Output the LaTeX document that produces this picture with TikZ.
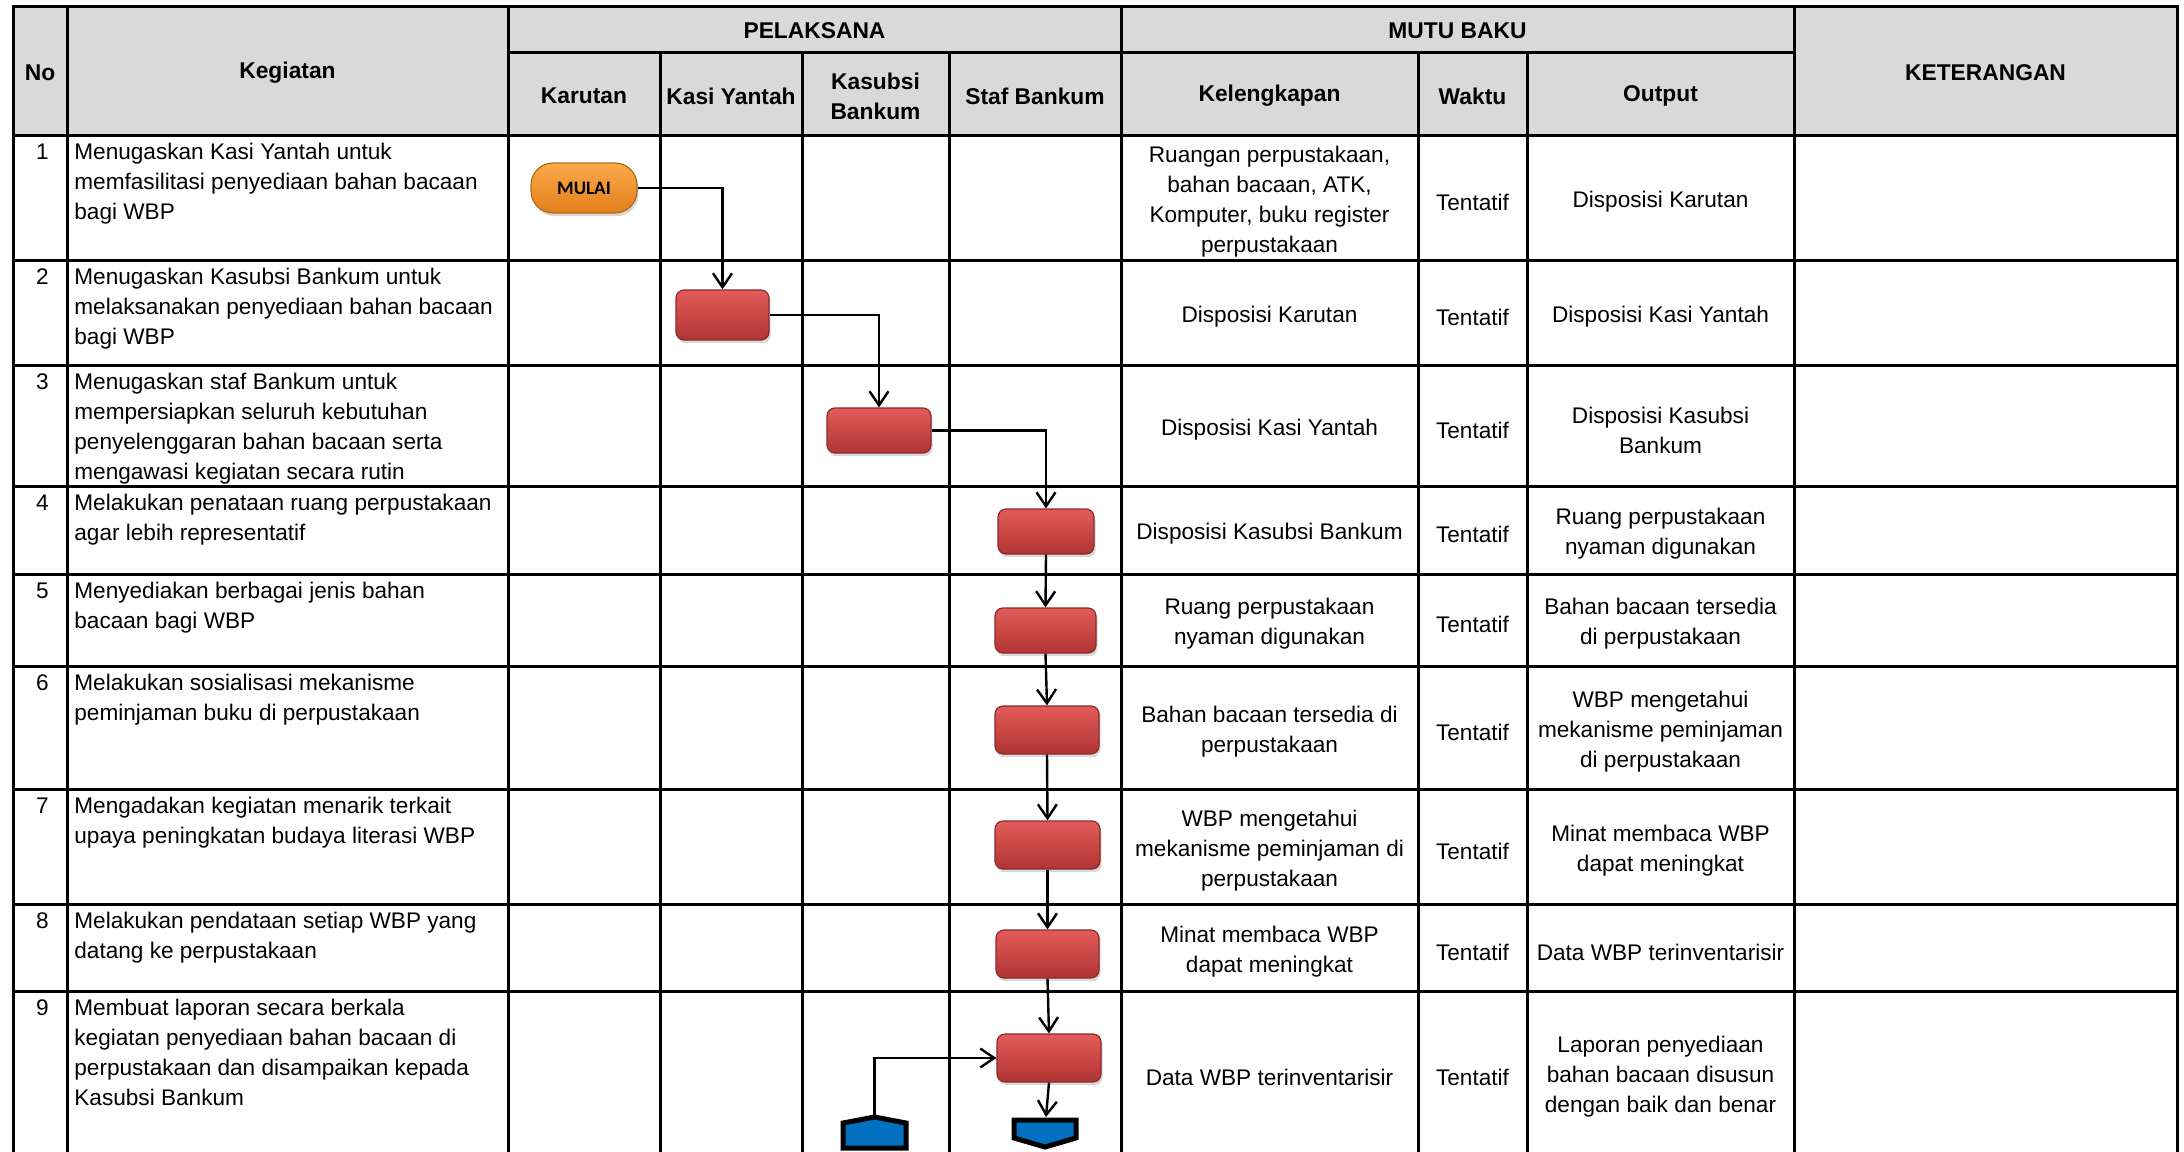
\documentclass[tikz,border=0pt]{standalone}
\usepackage{fontspec}
\setmainfont{Liberation Sans}
\newfontfamily\calfont{Carlito}
\usetikzlibrary{arrows.meta,shadows}
\definecolor{hdr}{HTML}{D9D9D9}
\definecolor{redtop}{HTML}{E25C5A}
\definecolor{redbot}{HTML}{B03434}
\definecolor{redline}{HTML}{8C2A2A}
\definecolor{orgtop}{HTML}{FBAA4C}
\definecolor{orgbot}{HTML}{E37F1A}
\definecolor{orgline}{HTML}{B8681A}
\definecolor{offblue}{HTML}{0070C0}
\begin{document}
\begin{tikzpicture}[x=0.5pt,y=-0.5pt,
  txt/.style={font=\fontsize{11.3}{15}\selectfont, inner sep=0pt},
  ctxt/.style={txt, align=center},
  ltxt/.style={txt, align=left, anchor=north west},
  numtxt/.style={txt, anchor=base east},
  hd/.style={font=\fontsize{11.4}{15}\selectfont\bfseries, inner sep=0pt, align=center},
  gridline/.style={line width=1.5pt, line cap=rect},
  procbox/.style={rectangle, rounded corners=4pt, draw=redline, line width=0.6pt,
    top color=redtop, bottom color=redbot, inner sep=0pt,
    drop shadow={shadow xshift=0.8pt, shadow yshift=-1.6pt, opacity=0.3}},
  startbox/.style={rectangle, rounded corners=11pt, draw=orgline, line width=0.6pt,
    top color=orgtop, bottom color=orgbot, inner sep=0pt,
    font=\calfont\bfseries\fontsize{9.5}{11}\selectfont,
    drop shadow={shadow xshift=0.8pt, shadow yshift=-1.6pt, opacity=0.3}},
  flow/.style={line width=1.2pt, -{Straight Barb[length=7pt,width=9.5pt]}},
  offpage/.style={fill=offblue, draw=black, line width=2.5pt, line join=miter}
]
\useasboundingbox (0,0) rectangle (2184,1151);
\clip (0,0) rectangle (2184,1151);
\fill[white] (0,0) rectangle (2184,1151);

% header fill
\fill[hdr] (13,6) rectangle (2177,135);

% grid
\draw[gridline] (13,6) -- (2177,6);
\draw[gridline] (508,52) -- (1794,52);
\foreach \yy in {135,260,365,486,574,666,789,904,991}
  \draw[gridline] (13,\yy) -- (2177,\yy);
\foreach \xx in {13,67,508,1121,1794,2177}
  \draw[gridline] (\xx,6) -- (\xx,1160);
\foreach \xx in {660,802,949,1418,1527}
  \draw[gridline] (\xx,52) -- (\xx,1160);

% header text
\node[hd] (hNo) at (40,73) {No};
\node[hd] (hKeg) at (287.5,73) {Kegiatan};
\node[hd] (hPel) at (814.5,31) {PELAKSANA};
\node[hd] (hMutu) at (1457.5,31) {MUTU BAKU};
\node[hd] (hKar) at (584,96) {Karutan};
\node[hd] (hKasi) at (731,96) {Kasi Yantah};
\node[hd] (hKsb) at (875.5,96) {Kasubsi\\Bankum};
\node[hd] (hStaf) at (1035,96) {Staf Bankum};
\node[hd] (hKel) at (1269.5,96) {Kelengkapan};
\node[hd] (hWak) at (1472.5,96) {Waktu};
\node[hd] (hOut) at (1660.5,96) {Output};
\node[hd] (hKet) at (1985.5,73) {KETERANGAN};

% numbers
\node[numtxt] (n1) at (49,159) {1};
\node[numtxt] (n2) at (49,284) {2};
\node[numtxt] (n3) at (49,389) {3};
\node[numtxt] (n4) at (49,510) {4};
\node[numtxt] (n5) at (49,598) {5};
\node[numtxt] (n6) at (49,690) {6};
\node[numtxt] (n7) at (49,813) {7};
\node[numtxt] (n8) at (49,928) {8};
\node[numtxt] (n9) at (49,1015) {9};

% kegiatan
\node[ltxt] (k1) at (74,143) {Menugaskan Kasi Yantah untuk\\memfasilitasi penyediaan bahan bacaan\\bagi WBP};
\node[ltxt] (k2) at (74,268) {Menugaskan Kasubsi Bankum untuk\\melaksanakan penyediaan bahan bacaan\\bagi WBP};
\node[ltxt] (k3) at (74,373) {Menugaskan staf Bankum untuk\\mempersiapkan seluruh kebutuhan\\penyelenggaran bahan bacaan serta\\mengawasi kegiatan secara rutin};
\node[ltxt] (k4) at (74,494) {Melakukan penataan ruang perpustakaan\\agar lebih representatif};
\node[ltxt] (k5) at (74,582) {Menyediakan berbagai jenis bahan\\bacaan bagi WBP};
\node[ltxt] (k6) at (74,674) {Melakukan sosialisasi mekanisme\\peminjaman buku di perpustakaan};
\node[ltxt] (k7) at (74,797) {Mengadakan kegiatan menarik terkait\\upaya peningkatan budaya literasi WBP};
\node[ltxt] (k8) at (74,912) {Melakukan pendataan setiap WBP yang\\datang ke perpustakaan};
\node[ltxt] (k9) at (74,999) {Membuat laporan secara berkala\\kegiatan penyediaan bahan bacaan di\\perpustakaan dan disampaikan kepada\\Kasubsi Bankum};

% kelengkapan
\node[ctxt] (l1) at (1269.5,202) {Ruangan perpustakaan,\\bahan bacaan, ATK,\\Komputer, buku register\\perpustakaan};
\node[ctxt] (l2) at (1269.5,317) {Disposisi Karutan};
\node[ctxt] (l3) at (1269.5,430) {Disposisi Kasi Yantah};
\node[ctxt] (l4) at (1269.5,534) {Disposisi Kasubsi Bankum};
\node[ctxt] (l5) at (1269.5,624) {Ruang perpustakaan\\nyaman digunakan};
\node[ctxt] (l6) at (1269.5,732) {Bahan bacaan tersedia di\\perpustakaan};
\node[ctxt] (l7) at (1269.5,851) {WBP mengetahui\\mekanisme peminjaman di\\perpustakaan};
\node[ctxt] (l8) at (1269.5,952) {Minat membaca WBP\\dapat meningkat};
\node[ctxt] (l9) at (1269.5,1077) {Data WBP terinventarisir};

% waktu
\foreach \yy/\nm in {202/w1,317/w2,430/w3,534/w4,624/w5,732/w6,851/w7,952/w8,1077/w9}
  \node[ctxt] (\nm) at (1472.5,\yy) {Tentatif};

% output
\node[ctxt] (o1) at (1660.5,202) {Disposisi Karutan};
\node[ctxt] (o2) at (1660.5,317) {Disposisi Kasi Yantah};
\node[ctxt] (o3) at (1660.5,430) {Disposisi Kasubsi\\Bankum};
\node[ctxt] (o4) at (1660.5,534) {Ruang perpustakaan\\nyaman digunakan};
\node[ctxt] (o5) at (1660.5,624) {Bahan bacaan tersedia\\di perpustakaan};
\node[ctxt] (o6) at (1660.5,732) {WBP mengetahui\\mekanisme peminjaman\\di perpustakaan};
\node[ctxt] (o7) at (1660.5,851) {Minat membaca WBP\\dapat meningkat};
\node[ctxt] (o8) at (1660.5,952) {Data WBP terinventarisir};
\node[ctxt] (o9) at (1660.5,1077) {Laporan penyediaan\\bahan bacaan disusun\\dengan baik dan benar};

% flow shapes
\node[startbox, minimum width=53pt, minimum height=25pt] (mulai) at (584,188) {MULAI};
\node[procbox, minimum width=46.5pt, minimum height=25pt] (b2) at (722.5,315) {};
\node[procbox, minimum width=52pt, minimum height=22.5pt] (b3) at (879,430.5) {};
\node[procbox, minimum width=48pt, minimum height=22.5pt] (b4) at (1046,531.5) {};
\node[procbox, minimum width=50.5pt, minimum height=22.5pt] (b5) at (1045.5,630.5) {};
\node[procbox, minimum width=52pt, minimum height=24pt] (b6) at (1047,730) {};
\node[procbox, minimum width=52.5pt, minimum height=24pt] (b7) at (1047.5,845) {};
\node[procbox, minimum width=51.5pt, minimum height=24pt] (b8) at (1047.5,954) {};
\node[procbox, minimum width=52pt, minimum height=24pt] (b9) at (1049,1058) {};

% off-page connectors
\draw[offpage] (843,1123) -- (874.5,1117) -- (906,1123) -- (906,1148) -- (843,1148) -- cycle;
\coordinate (offL) at (874.5,1115);
\draw[offpage] (1014,1120) -- (1076,1120) -- (1076,1138) -- (1045,1147) -- (1014,1138) -- cycle;
\coordinate (offR) at (1046,1117);

% connectors
\draw[flow] (mulai.east) -| (b2.north);
\draw[flow] (b2.east) -| (b3.north);
\draw[flow] (b3.east) -| (b4.north);
\draw[flow] (b4.south) -- (b5.north);
\draw[flow] (b5.south) -- (b6.north);
\draw[flow] (b6.south) -- (b7.north);
\draw[flow] (b7.south) -- (b8.north);
\draw[flow] (b8.south) -- (b9.north);
\draw[flow] (offL) |- (b9.west);
\draw[flow] (b9.south) -- (offR);
\end{tikzpicture}
\end{document}
